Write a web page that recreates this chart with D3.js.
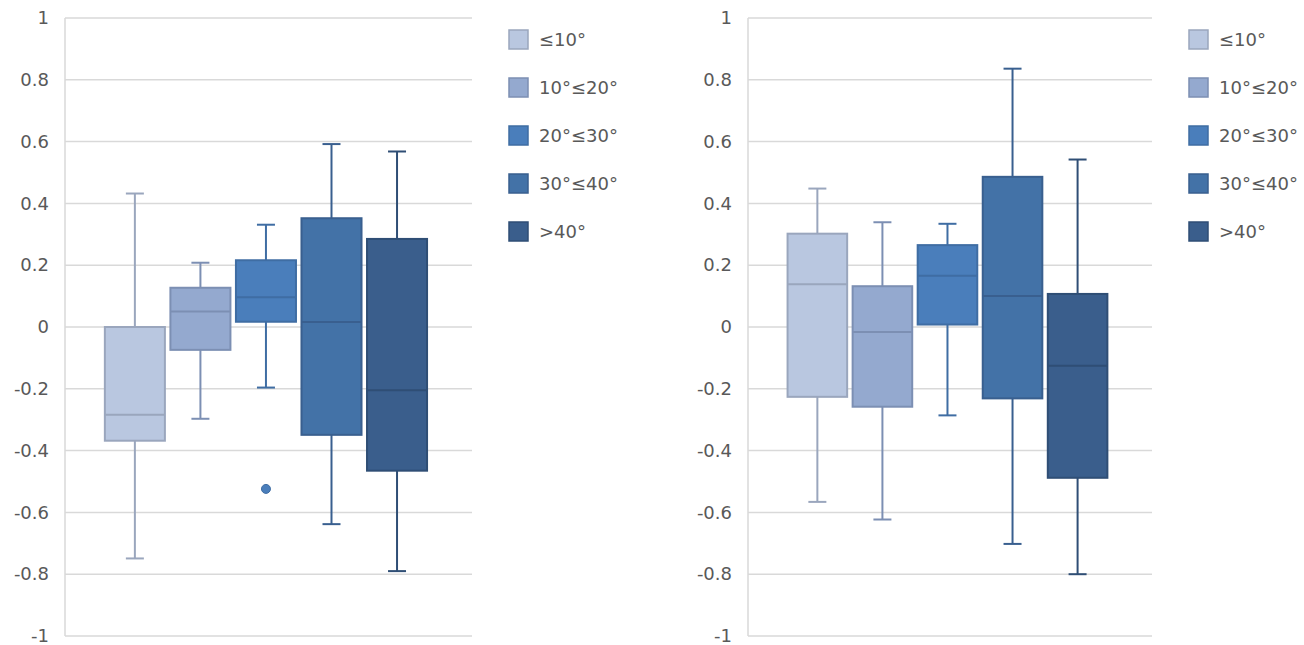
<!DOCTYPE html>
<html>
<head>
<meta charset="utf-8">
<script src="https://cdn.jsdelivr.net/npm/d3@7"></script>
<style>
  body { margin: 0; background: #fff; }
  svg text { font-family: "DejaVu Sans", Verdana, sans-serif; fill: #595959; }
</style>
</head>
<body>
<svg id="chart" width="1304" height="645"></svg>
<script>
// ---- data ----
const seriesNames = ["≤10°", "10°≤20°", "20°≤30°", "30°≤40°", ">40°"];
const yTicks = [1, 0.8, 0.6, 0.4, 0.2, 0, -0.2, -0.4, -0.6, -0.8, -1];

// left panel
const leftMin    = [-0.749, -0.297, -0.196, -0.638, -0.790];
const leftQ1     = [-0.368, -0.074,  0.017, -0.349, -0.465];
const leftMedian = [-0.284,  0.050,  0.096,  0.016, -0.205];
const leftQ3     = [ 0.000,  0.127,  0.216,  0.352,  0.285];
const leftMax    = [ 0.432,  0.208,  0.331,  0.592,  0.568];
const leftOutliers = [[], [], [-0.524], [], []];

// right panel
const rightMin    = [-0.566, -0.623, -0.286, -0.702, -0.800];
const rightQ1     = [-0.226, -0.258,  0.008, -0.231, -0.488];
const rightMedian = [ 0.138, -0.016,  0.166,  0.100, -0.125];
const rightQ3     = [ 0.302,  0.132,  0.265,  0.486,  0.107];
const rightMax    = [ 0.448,  0.339,  0.334,  0.836,  0.542];
const rightOutliers = [[], [], [], [], []];

// ---- styles ----
const fills   = ["#B9C7E0", "#94A9CF", "#4A7EBB", "#4372A7", "#3A5E8C"];
const strokes = ["#9AA6BD", "#7C8FB3", "#3F6DA3", "#395F8F", "#2F4E75"];

const svg = d3.select("#chart");

function drawPanel(cfg) {
  const g = svg.append("g");
  const y = d3.scaleLinear().domain([-1, 1]).range([636, 18]);
  const x = d3.scaleBand().domain(seriesNames)
    .range([cfg.x0, cfg.x1]).paddingInner(0.084).paddingOuter(0.647).align(0.47);

  // gridlines
  g.append("g").selectAll("line").data(yTicks).join("line")
    .attr("x1", cfg.x0).attr("x2", cfg.x1)
    .attr("y1", d => y(d)).attr("y2", d => y(d))
    .attr("stroke", "#d9d9d9").attr("stroke-width", 1.5);
  // vertical axis line
  g.append("line").attr("x1", cfg.x0).attr("x2", cfg.x0)
    .attr("y1", y(1)).attr("y2", y(-1))
    .attr("stroke", "#d9d9d9").attr("stroke-width", 1.5);

  // tick labels via axis
  const axis = d3.axisLeft(y).tickValues(yTicks).tickSize(0).tickPadding(0)
    .tickFormat(d => d3.format("")(d).replace("−", "-"));
  const ag = g.append("g").attr("transform", `translate(${cfg.x0 - 16},0)`).call(axis);
  ag.select(".domain").remove();
  ag.selectAll("text").attr("font-size", 18).attr("fill", "#595959")
    .attr("font-family", "DejaVu Sans, Verdana, sans-serif");

  const data = seriesNames.map((s, i) => ({
    s, i, min: cfg.min[i], q1: cfg.q1[i], med: cfg.med[i], q3: cfg.q3[i], max: cfg.max[i], out: cfg.out[i]
  }));

  const bw = x.bandwidth();
  const cap = 18;
  const boxes = g.append("g").selectAll("g").data(data).join("g");
  const cx = d => x(d.s) + bw / 2;

  // whiskers
  boxes.append("line").attr("x1", cx).attr("x2", cx)
    .attr("y1", d => y(d.max)).attr("y2", d => y(d.q3))
    .attr("stroke", d => strokes[d.i]).attr("stroke-width", 2);
  boxes.append("line").attr("x1", cx).attr("x2", cx)
    .attr("y1", d => y(d.q1)).attr("y2", d => y(d.min))
    .attr("stroke", d => strokes[d.i]).attr("stroke-width", 2);
  boxes.append("line").attr("x1", d => cx(d) - cap / 2).attr("x2", d => cx(d) + cap / 2)
    .attr("y1", d => y(d.max)).attr("y2", d => y(d.max))
    .attr("stroke", d => strokes[d.i]).attr("stroke-width", 2);
  boxes.append("line").attr("x1", d => cx(d) - cap / 2).attr("x2", d => cx(d) + cap / 2)
    .attr("y1", d => y(d.min)).attr("y2", d => y(d.min))
    .attr("stroke", d => strokes[d.i]).attr("stroke-width", 2);
  // box
  boxes.append("rect")
    .attr("x", d => x(d.s)).attr("width", bw)
    .attr("y", d => y(d.q3)).attr("height", d => y(d.q1) - y(d.q3))
    .attr("fill", d => fills[d.i]).attr("stroke", d => strokes[d.i]).attr("stroke-width", 2);
  // median
  boxes.append("line").attr("x1", d => x(d.s)).attr("x2", d => x(d.s) + bw)
    .attr("y1", d => y(d.med)).attr("y2", d => y(d.med))
    .attr("stroke", d => strokes[d.i]).attr("stroke-width", 2);
  // outliers
  boxes.selectAll("circle").data(d => d.out.map(v => ({ v, d }))).join("circle")
    .attr("cx", o => cx(o.d)).attr("cy", o => y(o.v)).attr("r", 4.5)
    .attr("fill", o => fills[o.d.i]).attr("stroke", o => strokes[o.d.i]).attr("stroke-width", 1);

  // legend
  const lg = g.append("g").attr("transform", `translate(${cfg.legendX},29)`);
  const items = lg.selectAll("g").data(seriesNames).join("g")
    .attr("transform", (d, i) => `translate(0,${i * 48})`);
  items.append("rect").attr("x", 1).attr("y", 1).attr("width", 19).attr("height", 19)
    .attr("fill", (d, i) => fills[i]).attr("stroke", (d, i) => strokes[i]).attr("stroke-width", 1.5);
  items.append("text").attr("x", 31).attr("y", 17).attr("font-size", 18).text(d => d);
}

drawPanel({ x0: 65, x1: 472, legendX: 508,
  min: leftMin, q1: leftQ1, med: leftMedian, q3: leftQ3, max: leftMax, out: leftOutliers });
drawPanel({ x0: 748, x1: 1152, legendX: 1188,
  min: rightMin, q1: rightQ1, med: rightMedian, q3: rightQ3, max: rightMax, out: rightOutliers });
</script>
</body>
</html>
